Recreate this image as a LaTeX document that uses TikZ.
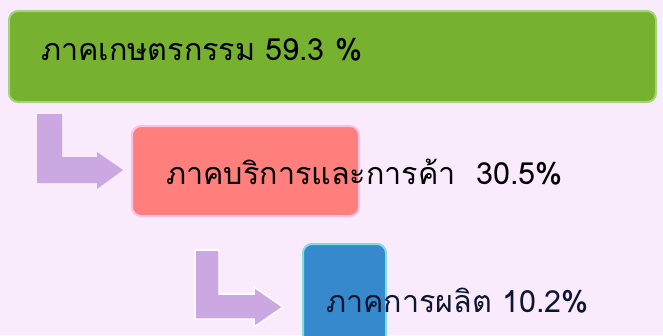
\documentclass[tikz,border=0pt]{standalone}
\usepackage{fontspec}
\newfontfamily\thaifont[Script=Thai]{Loma}
\definecolor{bgc}{HTML}{F9EBFB}
\definecolor{greenf}{HTML}{76B12F}
\definecolor{greenb}{HTML}{A6D47E}
\definecolor{redf}{HTML}{FF7F7D}
\definecolor{redb}{HTML}{F9C2E2}
\definecolor{bluef}{HTML}{3589CC}
\definecolor{blueb}{HTML}{80DCDD}
\definecolor{arrowc}{HTML}{CCA8E2}
\definecolor{navy}{HTML}{0D1530}
\tikzset{
  boxstyle/.style={rounded corners=9pt, line width=2pt, inner sep=0pt},
  lbl/.style={anchor=west, inner sep=0pt, font=\thaifont\fontsize{30.5}{33}\selectfont},
  bentarrow/.style={fill=arrowc}
}
\begin{document}
\begin{tikzpicture}[x=1pt,y=-1pt]
\fill[bgc] (0,0) rectangle (663,335);
\useasboundingbox (0,0) rectangle (663,335);
% boxes
\draw[boxstyle, fill=greenf, draw=greenb] (9,11) rectangle (656,102);
\node (agri) [lbl, text=black] at (41,50) {ภาคเกษตรกรรม 59.3 \%};
\draw[boxstyle, fill=redf, draw=redb] (132,126) rectangle (359,216);
\node (serv) [lbl, text=black] at (166,172) {ภาคบริการและการค้า~~30.5\%};
\draw[boxstyle, fill=bluef, draw=blueb] (303,244) rectangle (386,345);
\node (manu) [lbl, text=navy] at (326,301) {ภาคการผลิต 10.2\%};
% bent arrows
\fill[bentarrow] (37,114) -- (62,114) -- (62,157) -- (97,157) -- (97,152) -- (123,170) -- (97,189) -- (97,183) -- (37,183) -- cycle;
\draw[bentarrow, draw=white, line width=1.5pt] (195,250) -- (219,250) -- (219,294) -- (254,294) -- (254,287) -- (283,307) -- (254,327) -- (254,319) -- (195,319) -- cycle;
\end{tikzpicture}
\end{document}
